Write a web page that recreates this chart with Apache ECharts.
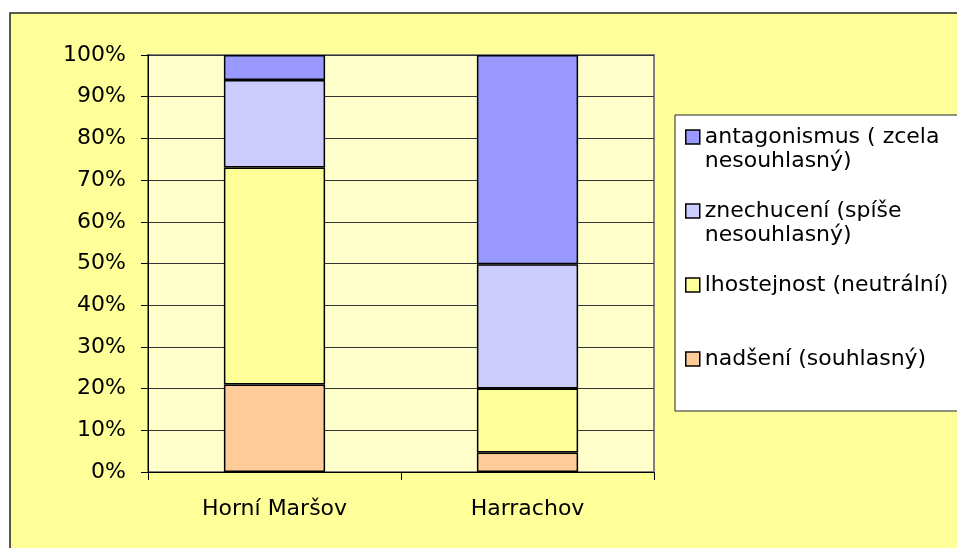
<!DOCTYPE html>
<html>
<head>
<meta charset="utf-8">
<script src="https://cdn.jsdelivr.net/npm/echarts@6/dist/echarts.min.js"></script>
<style>
html,body{margin:0;padding:0;background:#fff;}
#chart{width:957px;height:548px;}
</style>
</head>
<body>
<div id="chart"></div>
<script>
var categories = ['Horní Maršov', 'Harrachov'];
var seriesNames = ['nadšení (souhlasný)', 'lhostejnost (neutrální)', 'znechucení (spíše nesouhlasný)', 'antagonismus ( zcela nesouhlasný)'];
var nadseni = [21, 4.7];
var lhostejnost = [52, 15.3];
var znechuceni = [21, 29.8];
var antagonismus = [6, 50.2];
var yTicks = [0, 10, 20, 30, 40, 50, 60, 70, 80, 90, 100];

var legendLines = {
  'antagonismus ( zcela nesouhlasný)': ['antagonismus ( zcela', 'nesouhlasný)'],
  'znechucení (spíše nesouhlasný)': ['znechucení (spíše', 'nesouhlasný)'],
  'lhostejnost (neutrální)': ['lhostejnost (neutrální)', ' '],
  'nadšení (souhlasný)': ['nadšení (souhlasný)', ' ']
};
var colors = ['#FFCC99', '#FFFF99', '#CCCCFF', '#9999FF'];
var values = [nadseni, lhostejnost, znechuceni, antagonismus];
var FONT = 'DejaVu Sans';

var chart = echarts.init(document.getElementById('chart'), null, {renderer: 'canvas'});
var series = seriesNames.map(function (n, i) {
  return {
    name: n,
    type: 'bar',
    stack: 'total',
    barWidth: '40%',
    data: values[i],
    itemStyle: {color: colors[i], borderColor: '#000', borderWidth: 1.5},
    emphasis: {disabled: true}
  };
});

chart.setOption({
  backgroundColor: '#ffffff',
  animation: false,
  graphic: {
    elements: [
      {type: 'rect', z: -100, silent: true,
       shape: {x: 10, y: 13, width: 1000, height: 600},
       style: {fill: '#FFFF99', stroke: '#222', lineWidth: 1.5}},
      {type: 'rect', z: -50, silent: true,
       shape: {x: 675, y: 115, width: 320, height: 296},
       style: {fill: '#ffffff', stroke: '#222', lineWidth: 1}}
    ]
  },
  grid: {
    left: 148, top: 55, width: 506, height: 417,
    show: true, backgroundColor: '#FFFFCC', borderColor: '#808080', borderWidth: 2
  },
  legend: {
    left: 685, top: 101, orient: 'vertical', padding: 0, itemGap: 2,
    itemWidth: 14, itemHeight: 14, itemTextGap: 7,
    selectedMode: false,
    icon: 'rect',
    itemStyle: {borderColor: '#000', borderWidth: 1.5},
    formatter: function (n) { return ' \n' + legendLines[n].join('\n'); },
    textStyle: {fontFamily: FONT, fontSize: 22, lineHeight: 24, color: '#000'},
    data: seriesNames.slice().reverse()
  },
  xAxis: {
    type: 'category',
    data: categories,
    axisLine: {lineStyle: {color: '#000', width: 1}},
    axisTick: {show: true, length: 8, lineStyle: {color: '#000'}},
    axisLabel: {fontFamily: FONT, fontSize: 22, color: '#000', margin: 26},
    splitLine: {show: false}
  },
  yAxis: {
    type: 'value',
    min: 0, max: 100, interval: 10,
    axisLine: {show: true, lineStyle: {color: '#000', width: 1}},
    axisTick: {show: true, length: 7, lineStyle: {color: '#000'}},
    axisLabel: {fontFamily: FONT, fontSize: 22, color: '#000', margin: 22,
      formatter: function (v) { return yTicks.indexOf(v) >= 0 ? v + '%' : ''; }},
    splitLine: {show: true, lineStyle: {color: '#333', width: 1}}
  },
  series: series
});
</script>
</body>
</html>
